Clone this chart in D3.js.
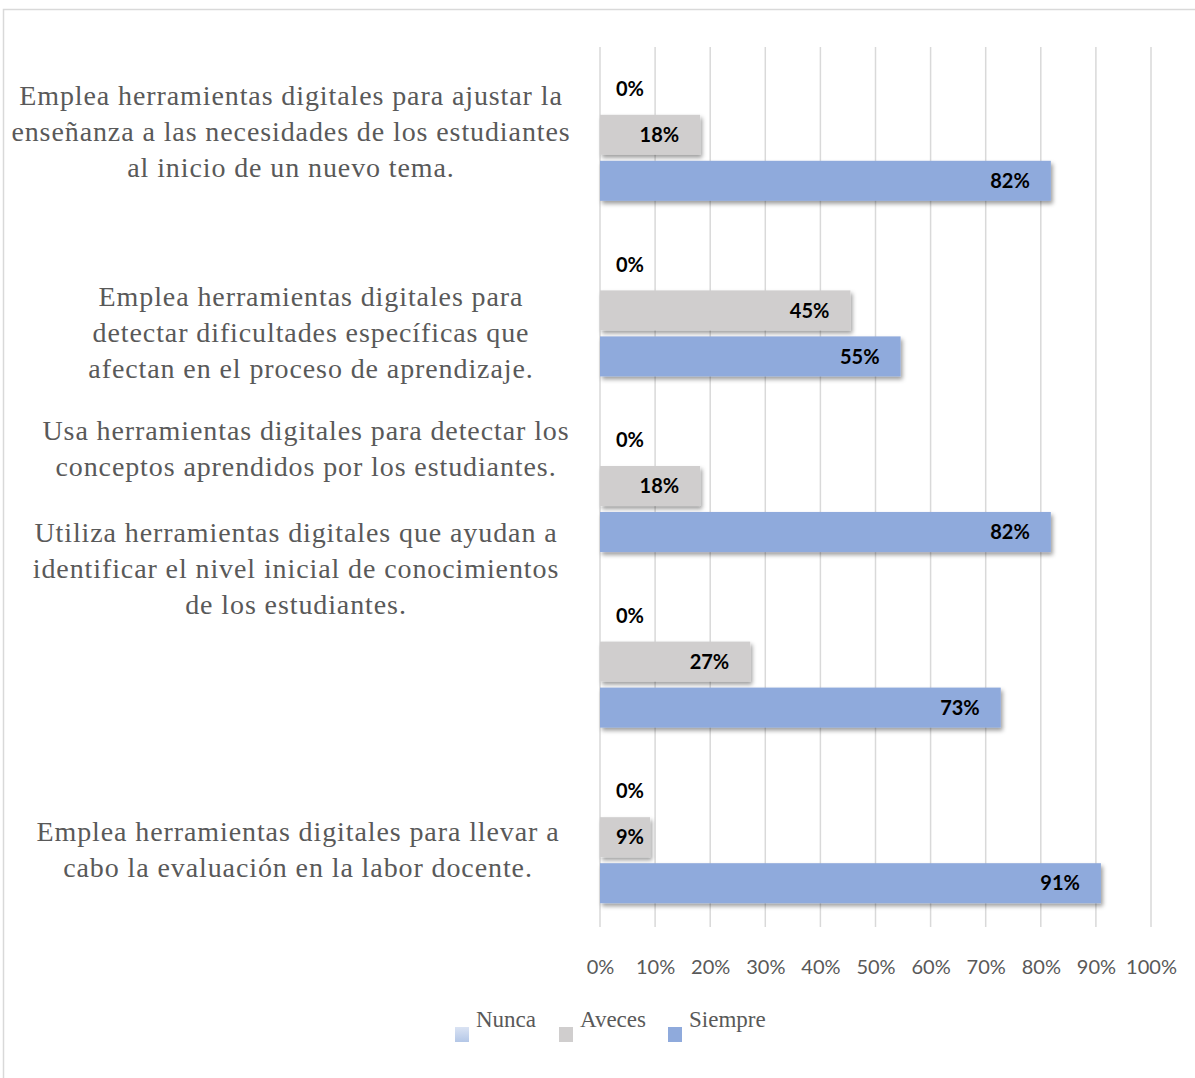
<!DOCTYPE html>
<html><head><meta charset="utf-8">
<script src="https://cdn.jsdelivr.net/npm/d3@7"></script>
<style>body{margin:0;background:#fff}svg{display:block}</style>
</head><body>
<script>
// ---- data ----
const categories = [
  "Emplea herramientas digitales para ajustar la enseñanza a las necesidades de los estudiantes al inicio de un nuevo tema.",
  "Emplea herramientas digitales para detectar dificultades específicas que afectan en el proceso de aprendizaje.",
  "Usa herramientas digitales para detectar los conceptos aprendidos por los estudiantes.",
  "Utiliza herramientas digitales que ayudan a identificar el nivel inicial de conocimientos de los estudiantes.",
  "Emplea herramientas digitales para llevar a cabo la evaluación en la labor docente."
];
const categoryLines = [
  ["Emplea herramientas digitales para ajustar la","enseñanza a las necesidades de los estudiantes","al inicio de un nuevo tema."],
  ["Emplea herramientas digitales para","detectar dificultades específicas que","afectan en el proceso de aprendizaje."],
  ["Usa herramientas digitales para detectar los","conceptos aprendidos por los estudiantes."],
  ["Utiliza herramientas digitales que ayudan a","identificar el nivel inicial de conocimientos","de los estudiantes."],
  ["Emplea herramientas digitales para llevar a","cabo la evaluación en la labor docente."]
];
const seriesNames = ["Nunca","Aveces","Siempre"];
const nunca   = [0, 0, 0, 0, 0];
const aveces  = [0.1818, 0.4545, 0.1818, 0.2727, 0.0909];
const siempre = [0.8182, 0.5455, 0.8182, 0.7273, 0.9091];
const tickValues = [0,0.1,0.2,0.3,0.4,0.5,0.6,0.7,0.8,0.9,1.0];

// ---- layout / style ----
const W = 1195, H = 1078;
const colors = {Nunca:"url(#gNunca)", Aveces:"#d0cece", Siempre:"#8faadc"};
const labelOffsetY = [-3, 22, -37.5, -93, 12.5];   // vertical placement of category text blocks
const labelCenterX = [291, 311, 306, 296, 298];
const lineH = 36;

const svg = d3.select("body").append("svg").attr("width", W).attr("height", H);
const defs = svg.append("defs");
const g1 = defs.append("linearGradient").attr("id","gNunca").attr("x1",0).attr("y1",0).attr("x2",0).attr("y2",1);
g1.append("stop").attr("offset","0%").attr("stop-color","#dae3f3");
g1.append("stop").attr("offset","100%").attr("stop-color","#b4c7e7");
const f = defs.append("filter").attr("id","shadow").attr("x","-5%").attr("y","-30%").attr("width","115%").attr("height","170%");
f.append("feDropShadow").attr("dx",2).attr("dy",3).attr("stdDeviation",2.2).attr("flood-color","#000").attr("flood-opacity",0.38);

// chart border
svg.append("rect").attr("x",3.5).attr("y",9.5).attr("width",W+10).attr("height",H+10)
  .attr("fill","none").attr("stroke","#d9d9d9").attr("stroke-width",1.5);

const x = d3.scaleLinear().domain([0,1]).range([600,1151]);
const y0 = d3.scaleBand().domain(d3.range(categories.length)).range([47,925]).paddingInner(0.214).paddingOuter(0.107);
const y1 = d3.scaleBand().domain(seriesNames).range([0,y0.bandwidth()]).paddingInner(0.13).paddingOuter(0.065);

// gridlines
svg.append("g").selectAll("line").data(tickValues).join("line")
  .attr("x1",d=>x(d)).attr("x2",d=>x(d)).attr("y1",47).attr("y2",927)
  .attr("stroke","#d9d9d9").attr("stroke-width",1.5);

// x axis labels
const xAxis = d3.axisBottom(x).tickValues(tickValues).tickFormat(d3.format(".0%")).tickSize(0).tickPadding(0);
const ax = svg.append("g").attr("transform","translate(0,960)").call(xAxis);
ax.select(".domain").remove();
ax.selectAll("text").attr("font-family","Lato, 'Open Sans', sans-serif").attr("font-size",20).attr("fill","#595959");

const seriesData = {Nunca:nunca, Aveces:aveces, Siempre:siempre};
const groups = svg.append("g").selectAll("g").data(categories.map((c,i)=>i)).join("g")
  .attr("transform", i=>`translate(0,${y0(i)})`);

groups.each(function(i){
  const g = d3.select(this);
  seriesNames.forEach(s=>{
    const v = seriesData[s][i];
    if (v > 0) {
      g.append("rect").attr("x",x(0)).attr("y",y1(s)).attr("width",x(v)-x(0)).attr("height",y1.bandwidth())
        .attr("fill",colors[s]).attr("filter","url(#shadow)");
    }
  });
  seriesNames.forEach(s=>{
    const v = seriesData[s][i];
    const t = g.append("text").attr("y",y1(s)+y1.bandwidth()/2).attr("dy","0.36em")
      .attr("font-family","Lato, 'Open Sans', sans-serif").attr("font-weight",700).attr("font-size",20)
      .attr("fill","#000").text(d3.format(".0%")(v));
    const w = t.node().getComputedTextLength();
    const right = Math.max(x(v)-21, x(0)+16+w);
    t.attr("x", right).attr("text-anchor","end");
  });
});

// category labels
categoryLines.forEach((lines,i)=>{
  const cy = y0(i) + y0.bandwidth()/2 + labelOffsetY[i];
  const t = svg.append("text").attr("font-family","'Liberation Serif','Times New Roman',serif")
    .attr("font-size",28).attr("letter-spacing",0.9).attr("fill","#595959").attr("text-anchor","middle");
  lines.forEach((ln,k)=>{
    t.append("tspan").attr("x",labelCenterX[i])
      .attr("y", cy + (k-(lines.length-1)/2)*lineH).attr("dy","0.33em").text(ln);
  });
});

// legend
const legendX = [455, 559, 668];
const lg = svg.append("g");
seriesNames.forEach((s,k)=>{
  lg.append("rect").attr("x",legendX[k]).attr("y",1027).attr("width",14).attr("height",15).attr("fill",colors[s]);
  lg.append("text").attr("x",legendX[k]+21).attr("y",1027)
    .attr("font-family","'Liberation Serif','Times New Roman',serif").attr("font-size",23)
    .attr("fill","#595959").text(s);
});
</script>
</body></html>
